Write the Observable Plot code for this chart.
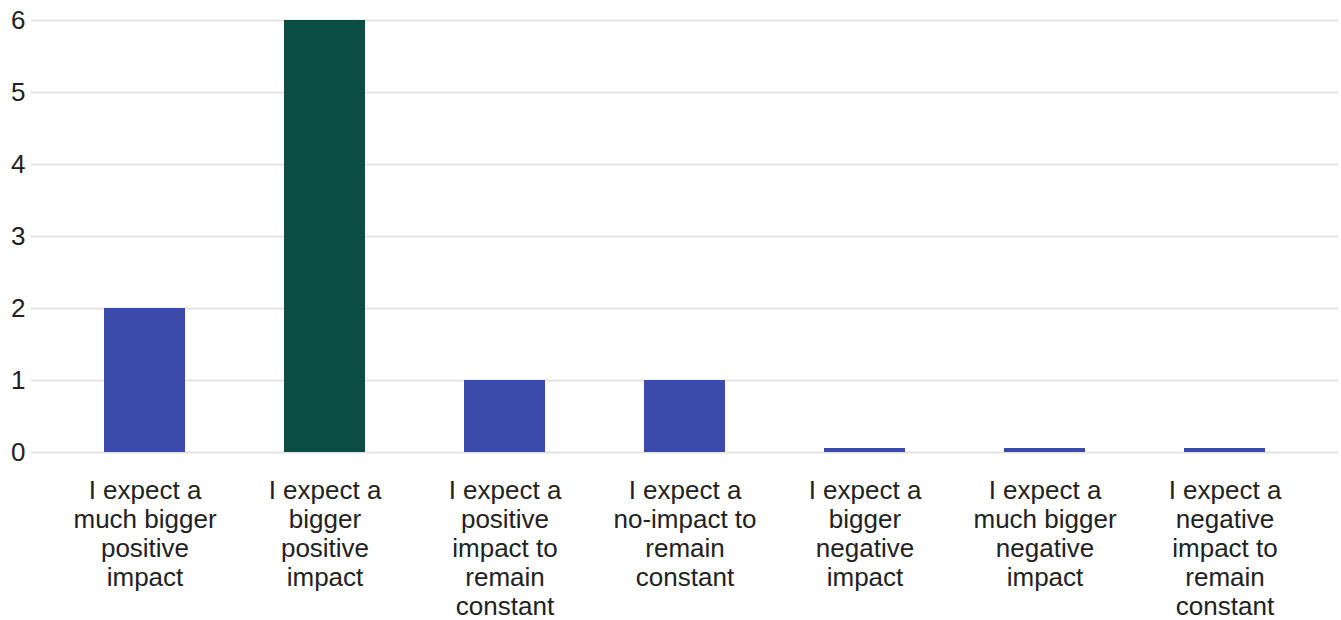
<!DOCTYPE html>
<html>
<head>
<meta charset="utf-8">
<script src="https://cdn.jsdelivr.net/npm/d3@7"></script>
<script src="https://cdn.jsdelivr.net/npm/@observablehq/plot@0.6"></script>
<style>
  html, body { margin: 0; padding: 0; background: #fff; }
  #chart svg { display: block; }
</style>
</head>
<body>
<div id="chart"></div>
<script>
// Survey answers and how many respondents chose each
const categories = [
  "I expect a much bigger positive impact",
  "I expect a bigger positive impact",
  "I expect a positive impact to remain constant",
  "I expect a no-impact to remain constant",
  "I expect a bigger negative impact",
  "I expect a much bigger negative impact",
  "I expect a negative impact to remain constant"
];
const counts = [2, 6, 1, 1, 0, 0, 0];
const labelLines = [
  "I expect a\nmuch bigger\npositive\nimpact",
  "I expect a\nbigger\npositive\nimpact",
  "I expect a\npositive\nimpact to\nremain\nconstant",
  "I expect a\nno-impact to\nremain\nconstant",
  "I expect a\nbigger\nnegative\nimpact",
  "I expect a\nmuch bigger\nnegative\nimpact",
  "I expect a\nnegative\nimpact to\nremain\nconstant"
];
const highlighted = "I expect a bigger positive impact";
const yTicks = [0, 1, 2, 3, 4, 5, 6];

const rows = categories.map((c, i) => ({category: c, count: counts[i], label: labelLines[i]}));
const blue = "#3b4aab";
const green = "#094d44";
const fill = d => d.category === highlighted ? green : blue;

const chart = Plot.plot({
  width: 1341,
  height: 620,
  marginTop: 20,
  marginBottom: 168,
  marginLeft: 31,
  marginRight: 3,
  style: {fontFamily: "'Liberation Sans', Arial, sans-serif", color: "#222", background: "#fff"},
  x: {domain: categories, range: [54, 1314], paddingInner: 0.55, paddingOuter: 0.275, axis: null},
  y: {domain: [0, 6], ticks: yTicks, axis: null},
  marks: [
    Plot.ruleY(yTicks, {stroke: "#e3e3e3", strokeWidth: 2}),
    Plot.barY(rows.filter(d => d.count > 0), {x: "category", y: "count", fill}),
    // empty answers still get a thin stub on the baseline
    Plot.barY(rows.filter(d => d.count === 0), {x: "category", y: "count", fill, insetTop: -4}),
    Plot.axisY(yTicks, {tickSize: 0, tickPadding: 6, fontSize: 26, tickFormat: d => String(d), fill: "#222", label: null}),
    Plot.text(rows, {
      x: "category", y: () => 0, text: "label",
      lineAnchor: "top", dy: 26, fontSize: 26, lineHeight: 1.115, fill: "#222"
    })
  ]
});
document.getElementById("chart").appendChild(chart);
</script>
</body>
</html>
